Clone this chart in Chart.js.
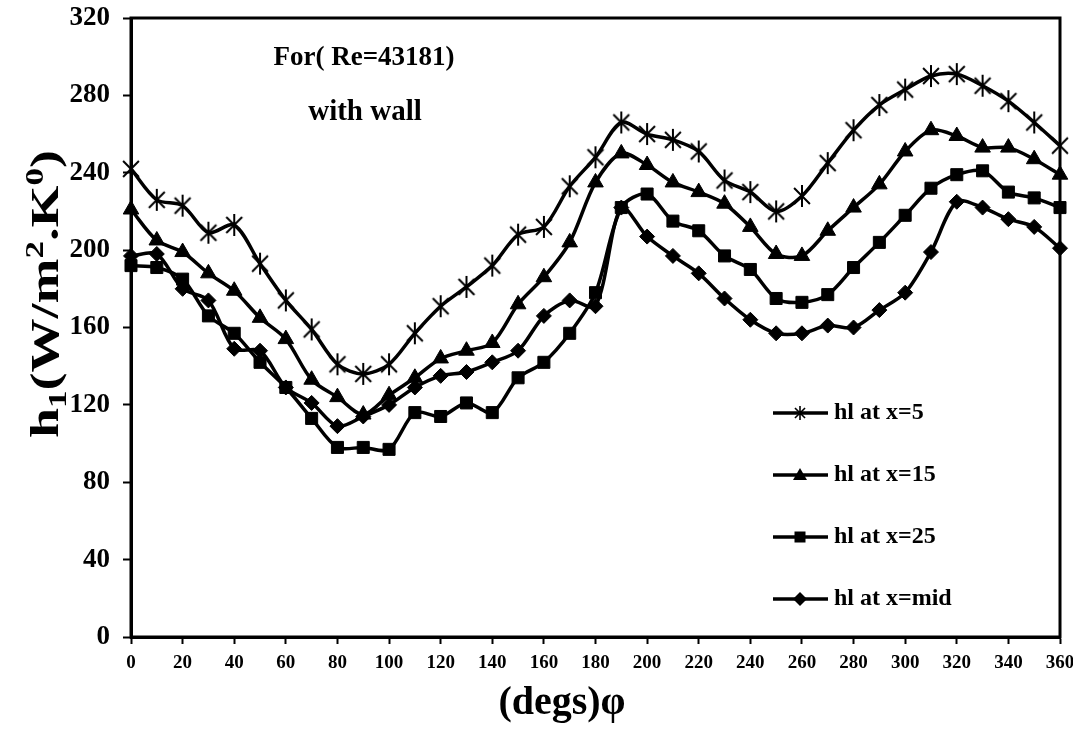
<!DOCTYPE html>
<html>
<head>
<meta charset="utf-8">
<script src="https://cdn.jsdelivr.net/npm/chart.js@4.4.1/dist/chart.umd.min.js"></script>
<style>
  html, body { margin: 0; padding: 0; background: #fff; }
  #grafico { display: block; }
</style>
</head>
<body>
<canvas id="grafico" width="1073" height="743"></canvas>
<script>
// angulo (graus) e coeficiente h1 para cada posicao x
const graus = [0, 10, 20, 30, 40, 50, 60, 70, 80, 90, 100, 110, 120, 130, 140, 150, 160, 170, 180,
  190, 200, 210, 220, 230, 240, 250, 260, 270, 280, 290, 300, 310, 320, 330, 340, 350, 360];

const hX5 = [242, 226, 223, 209, 213, 193, 174, 159, 141, 136, 141, 157, 171, 181, 192, 208, 212, 233, 248,
  266, 260, 257, 251, 236, 230, 220, 228, 245, 262, 275, 283, 290, 291, 285, 277, 266, 254];
const hX15 = [221, 205, 199, 188, 179, 165, 154, 133, 124, 115, 125, 134, 144, 148, 152, 172, 186, 204, 235,
  250, 244, 235, 230, 224, 212, 198, 197, 210, 222, 234, 251, 262, 259, 253, 253, 247, 239];
const hX25 = [192, 191, 185, 166, 157, 142, 129, 113, 98, 98, 97, 116, 114, 121, 116, 134, 142, 157, 178,
  222, 229, 215, 210, 197, 190, 175, 173, 177, 191, 204, 218, 232, 239, 241, 230, 227, 222];
const hMid = [197, 198, 180, 174, 149, 148, 129, 121, 109, 114, 120, 129, 135, 137, 142, 148, 166, 174, 171,
  222, 207, 197, 188, 175, 164, 157, 157, 161, 160, 169, 178, 199, 225, 222, 216, 212, 201];

const rotulos = ["hl at x=5", "hl at x=15", "hl at x=25", "hl at x=mid"];

const FONTE = "'Liberation Serif', 'Times New Roman', serif";

// asterisco de 6 pontas (vertical + X), igual ao marcador do Excel
function criarAsterisco(tam, espessura) {
  const c = document.createElement("canvas");
  c.width = tam;
  c.height = tam;
  const ctx = c.getContext("2d");
  const m = tam / 2, r = tam / 2 - 1;
  ctx.strokeStyle = "#000";
  ctx.lineWidth = espessura;
  ctx.beginPath();
  ctx.moveTo(m, m - r); ctx.lineTo(m, m + r);
  ctx.moveTo(m - r * 0.72, m - r * 0.72); ctx.lineTo(m + r * 0.72, m + r * 0.72);
  ctx.moveTo(m + r * 0.72, m - r * 0.72); ctx.lineTo(m - r * 0.72, m + r * 0.72);
  ctx.stroke();
  return c;
}

const asterisco = criarAsterisco(24, 2);
const asteriscoLegenda = criarAsterisco(16, 1.6);

function pontos(valores) {
  return graus.map((g, i) => ({ x: g, y: valores[i] }));
}

function serie(label, valores, estilo, raio) {
  return {
    label: label,
    data: pontos(valores),
    borderColor: "#000",
    backgroundColor: "#000",
    borderWidth: 3.5,
    pointStyle: estilo,
    pointRadius: raio,
    pointHoverRadius: raio,
    pointBorderWidth: 1,
    pointBackgroundColor: "#000",
    pointBorderColor: "#000",
    tension: 0.3,
    clip: false,
  };
}

// moldura, titulos e legenda desenhados a mao
const extras = {
  id: "extras",
  afterDraw(chart) {
    const ctx = chart.ctx;
    const a = chart.chartArea;
    ctx.save();

    ctx.strokeStyle = "#000";
    ctx.lineWidth = 3;
    ctx.strokeRect(a.left, a.top, a.right - a.left, a.bottom - a.top);

    // titulo interno
    ctx.fillStyle = "#000";
    ctx.textAlign = "center";
    ctx.textBaseline = "middle";
    ctx.font = "bold 27px " + FONTE;
    ctx.fillText("For( Re=43181)", 364, 58);
    ctx.font = "bold 29px " + FONTE;
    ctx.fillText("with wall", 365, 113);

    // titulo eixo x
    ctx.font = "bold 40px " + FONTE;
    ctx.fillText("(degs)\u03C6", 562, 704);

    // titulo eixo y com indice e expoentes
    const partes = [
      ["h", 40, 0], ["1", 26, 8], ["(W/m", 40, 0], ["2", 26, -15], [".K", 40, 0], ["0", 26, -15], [")", 40, 0],
    ];
    let total = 0;
    partes.forEach(p => { ctx.font = "bold " + p[1] + "px " + FONTE; total += ctx.measureText(p[0]).width; });
    const esticar = 1.35;
    ctx.translate(44, 294);
    ctx.rotate(-Math.PI / 2);
    ctx.scale(esticar, 1);
    ctx.textAlign = "left";
    ctx.textBaseline = "alphabetic";
    let px = -total / 2;
    partes.forEach(p => {
      ctx.font = "bold " + p[1] + "px " + FONTE;
      ctx.fillText(p[0], px, 14 + p[2]);
      px += ctx.measureText(p[0]).width;
    });
    ctx.setTransform(1, 0, 0, 1, 0, 0);

    // legenda
    const linhasY = [413, 475, 537, 599];
    ctx.lineWidth = 3.5;
    linhasY.forEach((y, i) => {
      ctx.beginPath();
      ctx.moveTo(773, y);
      ctx.lineTo(828, y);
      ctx.stroke();
      const cx = 800;
      ctx.beginPath();
      if (i === 0) {
        ctx.drawImage(asteriscoLegenda, cx - 8, y - 8);
      } else if (i === 1) {
        ctx.moveTo(cx, y - 7); ctx.lineTo(cx + 7, y + 5); ctx.lineTo(cx - 7, y + 5); ctx.closePath(); ctx.fill();
      } else if (i === 2) {
        ctx.fillRect(cx - 5.5, y - 5.5, 11, 11);
      } else {
        ctx.moveTo(cx, y - 7); ctx.lineTo(cx + 7, y); ctx.lineTo(cx, y + 7); ctx.lineTo(cx - 7, y); ctx.closePath(); ctx.fill();
      }
      ctx.font = "bold 24px " + FONTE;
      ctx.textAlign = "left";
      ctx.textBaseline = "middle";
      ctx.fillText(rotulos[i], 834, y);
    });

    ctx.restore();
  },
};

new Chart(document.getElementById("grafico"), {
  type: "line",
  data: {
    datasets: [
      serie(rotulos[0], hX5, asterisco, 12),
      serie(rotulos[1], hX15, "triangle", 9),
      serie(rotulos[2], hX25, "rect", 8.5),
      serie(rotulos[3], hMid, "rectRot", 7.5),
    ],
  },
  options: {
    responsive: false,
    animation: false,
    layout: { padding: { top: 18, right: 10, left: 0, bottom: 0 } },
    plugins: {
      legend: { display: false },
      tooltip: { enabled: false },
    },
    scales: {
      x: {
        type: "linear",
        min: 0,
        max: 360,
        afterFit(s) { s.height = 106; s.paddingRight = 0; s.paddingLeft = 0; },
        border: { color: "#000", width: 3 },
        grid: { drawOnChartArea: false, drawTicks: true, tickLength: 7, tickWidth: 2, tickColor: "#000" },
        ticks: {
          stepSize: 20,
          color: "#000",
          padding: 8,
          maxRotation: 0,
          font: { family: FONTE, size: 19, weight: "bold" },
        },
      },
      y: {
        min: 0,
        max: 320,
        afterFit(s) { s.width = 131; s.paddingTop = 0; s.paddingBottom = 0; },
        border: { color: "#000", width: 3 },
        grid: { drawOnChartArea: false, drawTicks: true, tickLength: 8, tickWidth: 2, tickColor: "#000" },
        ticks: {
          stepSize: 40,
          color: "#000",
          padding: 13,
          font: { family: FONTE, size: 27, weight: "bold" },
        },
      },
    },
  },
  plugins: [extras],
});
</script>
</body>
</html>
